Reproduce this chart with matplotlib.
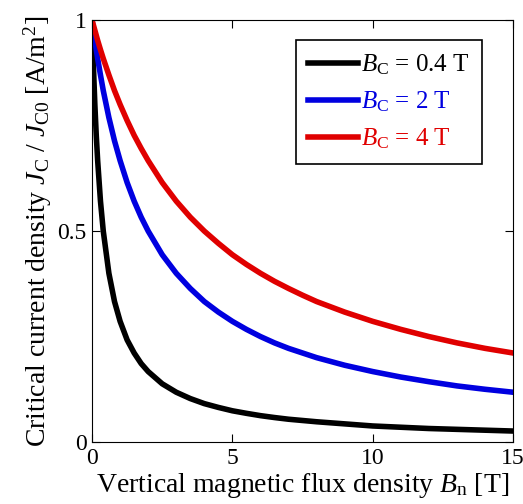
import numpy as np
import matplotlib.pyplot as plt

plt.rcParams['font.family'] = 'Liberation Serif'
plt.rcParams['mathtext.fontset'] = 'custom'
plt.rcParams['mathtext.rm'] = 'Liberation Serif'
plt.rcParams['mathtext.it'] = 'Liberation Serif:italic'

# values
b_n = [0, 0.05, 0.1, 0.15, 0.2, 0.3, 0.4, 0.6, 0.8, 1.0, 1.25, 1.5, 1.75, 2, 2.5, 3,
       3.5, 4, 4.5, 5, 5.5, 6, 6.5, 7, 7.5, 8, 9, 10, 11, 12, 13, 14, 15]
jc_04 = [1, 0.889, 0.800, 0.727, 0.667, 0.571, 0.500, 0.400, 0.333, 0.286, 0.242,
         0.211, 0.186, 0.167, 0.138, 0.118, 0.103, 0.091, 0.082, 0.074, 0.068, 0.0625,
         0.058, 0.054, 0.051, 0.048, 0.043, 0.038, 0.035, 0.032, 0.030, 0.028, 0.026]
jc_2 = [1, 0.976, 0.952, 0.930, 0.909, 0.870, 0.833, 0.769, 0.714, 0.667, 0.615,
        0.571, 0.533, 0.500, 0.444, 0.400, 0.364, 0.333, 0.308, 0.286, 0.267, 0.250,
        0.235, 0.222, 0.211, 0.200, 0.182, 0.167, 0.154, 0.143, 0.133, 0.125, 0.118]
jc_4 = [1, 0.988, 0.976, 0.964, 0.952, 0.930, 0.909, 0.870, 0.833, 0.800, 0.762,
        0.727, 0.696, 0.667, 0.615, 0.571, 0.533, 0.500, 0.471, 0.444, 0.421, 0.400,
        0.381, 0.364, 0.348, 0.333, 0.308, 0.286, 0.267, 0.250, 0.235, 0.222, 0.211]
labels = [r'$B_\mathrm{C}$ = 0.4 T', r'$B_\mathrm{C}$ = 2 T', r'$B_\mathrm{C}$ = 4 T']
colors = ['black', '#0000e0', '#e00000']

fig = plt.figure(figsize=(5.23, 5.04), dpi=100)
ax = fig.add_axes([0.176, 0.123, 0.805, 0.837])

for ys, lab, c in zip([jc_04, jc_2, jc_4], labels, colors):
    ax.plot(b_n, ys, color=c, lw=4, label=lab, solid_joinstyle='round')

ax.set_xlim(0, 15)
ax.set_ylim(0, 1)
ax.set_xticks([0, 5, 10, 15])
ax.set_yticks([0, 0.5, 1])
ax.set_yticklabels(['0', '0.5', '1'])
ax.tick_params(direction='in', top=True, right=True, labelsize=17, length=6, pad=4)
ax.set_xlabel(r'Vertical magnetic flux density $B_\mathrm{n}$ [T]', fontsize=20, labelpad=2)
ax.set_ylabel(r'Critical current density $J_\mathrm{C}$ / $J_\mathrm{C0}$ [A/m$^2$]',
              fontsize=20, labelpad=2)

leg = ax.legend(loc='upper right', bbox_to_anchor=(0.926, 0.953), fontsize=18,
                fancybox=False, framealpha=1, edgecolor='black', handlelength=2.0,
                handletextpad=0.1, borderaxespad=0, labelspacing=0.5, borderpad=0.5)
leg.get_frame().set_linewidth(1.2)
for t, c in zip(leg.get_texts(), colors):
    t.set_color(c)

fig.savefig('out.png')
